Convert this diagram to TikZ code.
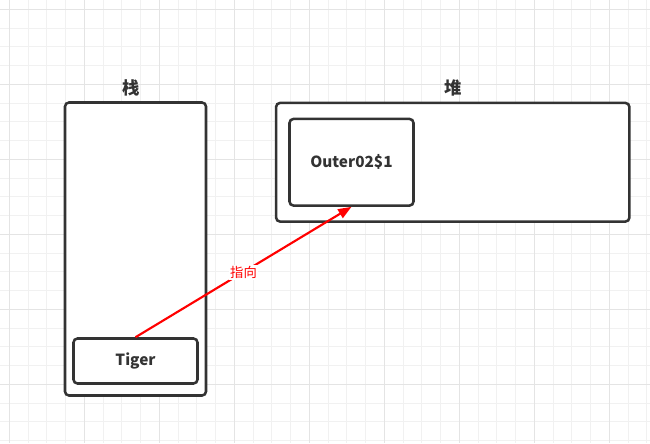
\documentclass[tikz,border=0pt]{standalone}
\usepackage{fontspec}
\setmainfont{Noto Sans CJK SC}
\usepackage{tikz}
\usetikzlibrary{arrows.meta}
\definecolor{boxgray}{HTML}{333333}
\definecolor{gridminor}{HTML}{F1F1F1}
\definecolor{gridmajor}{HTML}{E4E4E4}
\tikzset{
	% Two box styles: the memory area and the object inside it
	area box/.style={draw=boxgray,line width=1.9pt,rounded corners=3pt,inner sep=0pt},
	item box/.style={draw=boxgray,line width=1.9pt,rounded corners=3pt,inner sep=0pt,
		font=\bfseries\fontsize{11.5}{13}\selectfont,text=boxgray},
	area title/.style={font=\bfseries\fontsize{13}{15}\selectfont,text=boxgray}
}

\begin{document}
\begin{tikzpicture}[x=0.75pt,y=-0.75pt]
			\useasboundingbox(0,0)rectangle(650,443);
			% background and grid
			\fill[white](0,0)rectangle(650,443);
			\foreach \g in {0,...,34}{
				\draw[gridminor,line width=0.7pt]({9.3+18.75*\g},0)--({9.3+18.75*\g},443);
			}
			\foreach \g in {0,...,23}{
				\draw[gridminor,line width=0.7pt](0,{9.3+18.75*\g})--(650,{9.3+18.75*\g});
			}
			\foreach \g in {0,...,8}{
				\draw[gridmajor,line width=0.7pt]({9.3+75*\g},0)--({9.3+75*\g},443);
			}
			\foreach \g in {0,...,5}{
				\draw[gridmajor,line width=0.7pt](0,{9.3+75*\g})--(650,{9.3+75*\g});
			}
			
			% stack and heap
			\node(stack)[area box,fill=white,minimum width=105.75pt,minimum height=219.75pt]at(135.5,249){};
			\node(heap)[area box,fill=white,minimum width=265pt,minimum height=89pt]at(452.75,162.25){};
			\node(stack-title)[area title]at(131,88){栈};
			\node(heap-title)[area title]at(453,88){堆};
			
			% objects
			\node(tiger)[item box,minimum width=93pt,minimum height=33.75pt]at(135.5,361){Tiger};
			\node(outer)[item box,minimum width=93pt,minimum height=65pt]at(351.5,162.25){Outer02\$1};
			
			% reference
			\draw[red,line width=1.6pt,-{Triangle[length=10pt,width=7.5pt]}](tiger.north)--(outer.south)
				node(ref-label)[midway,fill=white,inner sep=1pt,text=red,font=\fontsize{10}{12}\selectfont]{指向};
		\end{tikzpicture}
\end{document}
